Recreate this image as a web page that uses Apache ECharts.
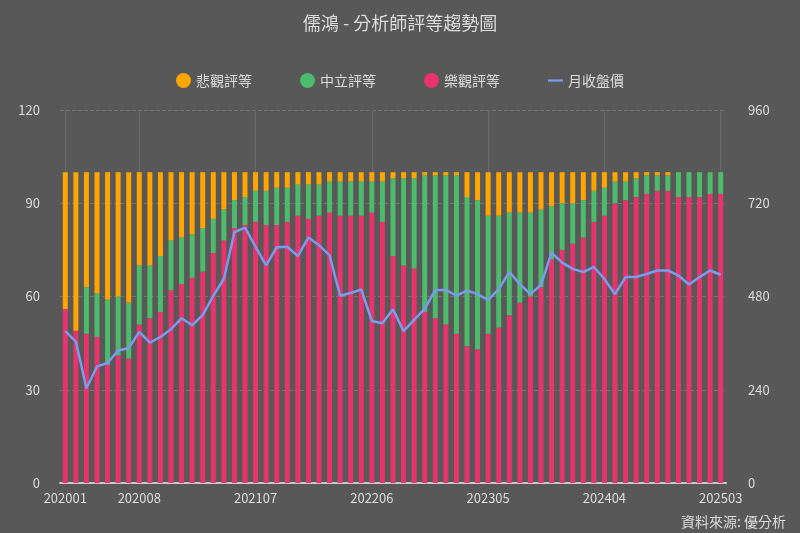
<!DOCTYPE html>
<html>
<head>
<meta charset="utf-8">
<script src="https://cdn.jsdelivr.net/npm/echarts@6/dist/echarts.min.js"></script>
<style>
html,body{margin:0;padding:0;background:#585858;}
#c{width:800px;height:533px;}
</style>
</head>
<body>
<div id="c"></div>
<script>
const categories = [
 '202001','202002','202003','202004','202005','202006','202007','202008','202009','202010','202011','202012',
 '202101','202102','202103','202104','202105','202106','202107','202108','202109','202110','202111','202112',
 '202201','202202','202203','202204','202205','202206','202207','202208','202209','202210','202211','202212',
 '202301','202302','202303','202304','202305','202306','202307','202308','202309','202310','202311','202312',
 '202401','202402','202403','202404','202405','202406','202407','202408','202409','202410','202411','202412',
 '202501','202502','202503'
];
const optimistic = [56,49,48,47,38,41,40,51,53,55,62,64,66,68,74,78,82,83,84,83,83,84,86,85,86,87,86,86,86,87,84,73,70,69,55,53,51,48,44,43,48,50,54,58,60,63,72,75,77,79,84,86,90,91,92,93,94,94,92,92,92,93,93];
const neutral = [0,0,15,14,21,19,18,19,17,18,16,15,14,14,11,10,9,9,10,11,12,11,10,11,10,10,11,11,11,10,13,25,28,29,44,46,48,51,48,48,38,36,33,29,27,25,17,15,13,12,10,9,7,6,6,6,5,5,8,8,8,7,7];
const pessimistic = [44,51,37,39,41,40,42,30,30,27,22,21,20,18,15,12,9,8,6,6,5,5,4,4,4,3,3,3,3,3,3,2,2,2,1,1,1,1,8,9,14,14,13,13,13,12,11,10,10,9,6,5,3,3,2,1,1,1,0,0,0,0,0];
const price = [391,364,244,300,309,341,347,389,361,376,396,424,406,432,482,525,646,657,608,560,607,608,584,632,612,586,482,489,498,417,411,447,391,420,448,497,497,482,495,486,471,499,543,512,486,510,593,567,551,543,556,525,486,530,530,538,547,547,534,511,530,547,536];
const leftTicks = [0,30,60,90,120];
const rightTicks = [0,240,480,720,960];

const FONT = '"Noto Sans CJK TC","Noto Sans",sans-serif';
const TXT = '#dcdcdc';
const lastIdx = categories.length - 1;
const showIdx = (i) => i === 0 || (lastIdx - i) % 11 === 0;

const chart = echarts.init(document.getElementById('c'));
chart.setOption({
  backgroundColor: '#585858',
  textStyle: {fontFamily: FONT},
  title: {
    text: '儒鴻 - 分析師評等趨勢圖',
    left: 'center', top: 9,
    textStyle: {color: TXT, fontSize: 18, fontWeight: 'normal', fontFamily: FONT}
  },
  legend: {
    top: 68, left: 'center', itemGap: 48, itemWidth: 15, itemHeight: 15,
    textStyle: {color: TXT, fontSize: 14, fontFamily: FONT},
    data: [
      {name: '悲觀評等', icon: 'circle'},
      {name: '中立評等', icon: 'circle'},
      {name: '樂觀評等', icon: 'circle'},
      {name: '月收盤價', icon: 'path://M0,0 L20,0 L20,3 L0,3 Z'}
    ]
  },
  grid: {left: 60, right: 74, top: 110, bottom: 50},
  xAxis: {
    type: 'category', data: categories, boundaryGap: true,
    axisLine: {show: true, lineStyle: {color: '#c8c8c8', width: 2}},
    axisTick: {show: false},
    axisLabel: {color: TXT, fontSize: 13, interval: (i) => showIdx(i), margin: 9, fontFamily: FONT},
    splitLine: {show: true, alignWithLabel: true, interval: (i) => showIdx(i), lineStyle: {color: '#6a6a6a', width: 1}}
  },
  yAxis: [
    {
      type: 'value', min: 0, max: 120, interval: 30,
      axisLine: {show: false}, axisTick: {show: false},
      axisLabel: {color: TXT, fontSize: 13, margin: 20, fontFamily: FONT},
      splitLine: {show: true, lineStyle: {color: '#747474', type: 'dashed', width: 1}}
    },
    {
      type: 'value', min: 0, max: 960, interval: 240,
      axisLine: {show: false}, axisTick: {show: false},
      axisLabel: {color: TXT, fontSize: 13, margin: 22, fontFamily: FONT},
      splitLine: {show: false}
    }
  ],
  series: [
    {name: '樂觀評等', type: 'bar', stack: 'r', data: optimistic, barWidth: 5, itemStyle: {color: '#e8336d'}},
    {name: '中立評等', type: 'bar', stack: 'r', data: neutral, barWidth: 5, itemStyle: {color: '#4cbb6c'}},
    {name: '悲觀評等', type: 'bar', stack: 'r', data: pessimistic, barWidth: 5, itemStyle: {color: '#ffa500'}},
    {name: '月收盤價', type: 'line', yAxisIndex: 1, data: price, showSymbol: false, symbol: 'none',
     symbolKeepAspect: true,
     lineStyle: {color: '#7b9bef', width: 2.5}, itemStyle: {color: '#7b9bef'}, z: 5}
  ],
  graphic: [{
    type: 'text', right: 14, bottom: 4,
    style: {text: '資料來源: 優分析', fill: TXT, fontSize: 14, fontFamily: FONT}
  }]
});
</script>
</body>
</html>
